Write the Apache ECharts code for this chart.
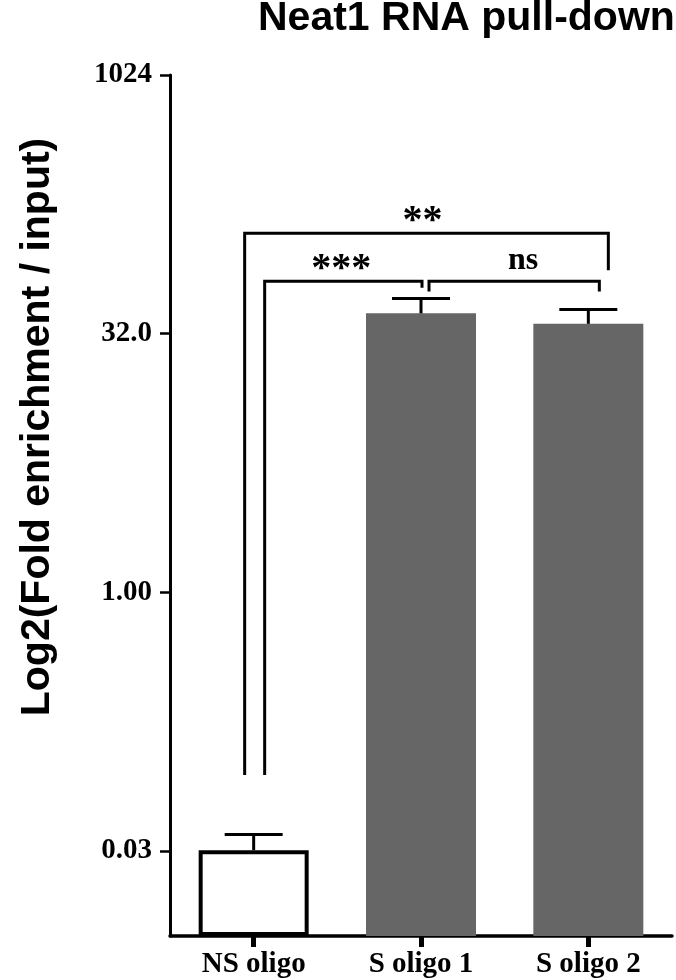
<!DOCTYPE html>
<html>
<head>
<meta charset="utf-8">
<script src="https://cdn.jsdelivr.net/npm/echarts@6/dist/echarts.min.js"></script>
<style>html,body{margin:0;padding:0;background:#fff}#c{width:676px;height:980px}</style>
</head>
<body>
<div id="c"></div>
<script>
const categories = ['NS oligo', 'S oligo 1', 'S oligo 2'];
const means = [0.0316, 42, 36.5];
const upperErr = [0.039, 51.2, 44.3];
const yTicks = [0.03125, 1, 32, 1024];
const yTickLabels = ['0.03', '1.00', '32.0', '1024'];
// significance brackets
const bracketFrom = [0, 0, 1];
const bracketTo = [2, 1, 2];
const bracketLevel = [123, 64.5, 64.5];
const bracketLeftEnd = [0.0866, 0.0866, 56.2];
const bracketRightEnd = [74.8, 59.1, 56.2];
const bracketLabels = ['**', '***', 'ns'];

// rendering offsets (pixels) for brackets
const bOffL = [-9, 11, 8];
const bOffR = [20, 1, 11];
const bTextDx = [-4, -2, 9];
const bTextDy = [-11, -12, -21];
const bTextSize = [40, 40, 32];

const chart = echarts.init(document.getElementById('c'), null, {renderer: 'canvas'});

const serif = '"Liberation Serif", "Times New Roman", serif';
const sans = '"Liberation Sans", Arial, sans-serif';

const barData = means.map((v, i) => ({
  value: v,
  itemStyle: i === 0
    ? {color: '#ffffff', borderColor: '#000', borderWidth: 4}
    : {color: '#666666', borderWidth: 0}
}));

const errData = means.map((v, i) => [i, v, upperErr[i]]);
const bracketData = bracketLabels.map((l, i) => [bracketFrom[i], bracketTo[i], bracketLevel[i], bracketLeftEnd[i], bracketRightEnd[i], i]);

chart.setOption({
  animation: false,
  backgroundColor: '#fff',
  title: {
    text: 'Neat1 RNA pull-down',
    left: 253,
    top: -7,
    textStyle: {fontFamily: sans, fontWeight: 'bold', fontSize: 41, color: '#000'}
  },
  graphic: [{
    type: 'text',
    x: 58,
    y: 427,
    rotation: Math.PI / 2,
    style: {
      text: 'Log2(Fold enrichment / input)',
      fontFamily: sans, fontWeight: 'bold', fontSize: 41, fill: '#000',
      align: 'center', verticalAlign: 'bottom'
    }
  }],
  grid: {left: 170, right: 4, top: 75, bottom: 44, containLabel: false},
  xAxis: {
    type: 'category',
    data: categories,
    axisLine: {show: true, lineStyle: {color: '#000', width: 3.5}},
    axisTick: {show: true, alignWithLabel: true, length: 11, lineStyle: {color: '#000', width: 5}},
    axisLabel: {margin: 14, fontFamily: serif, fontWeight: 'bold', fontSize: 29, color: '#000'},
    splitLine: {show: false}
  },
  yAxis: {
    type: 'log',
    logBase: 2,
    min: 0.01,
    max: 1024,
    startValue: 0.01,
    axisLine: {show: true, lineStyle: {color: '#000', width: 3}},
    axisTick: {show: true, customValues: yTicks, length: 10, lineStyle: {color: '#000', width: 2.5}},
    axisLabel: {
      customValues: yTicks,
      margin: 18,
      fontFamily: serif, fontWeight: 'bold', fontSize: 29, color: '#000',
      formatter: function (v) {
        let best = 0, bd = Infinity;
        yTicks.forEach((t, i) => { const d = Math.abs(Math.log2(t) - Math.log2(v)); if (d < bd) { bd = d; best = i; } });
        return yTickLabels[best];
      }
    },
    splitLine: {show: false},
    minorTick: {show: false}
  },
  series: [
    {
      type: 'bar',
      data: barData,
      barWidth: 110,
      z: 2
    },
    {
      type: 'custom',
      data: errData,
      encode: {x: 0, y: [1, 2]},
      z: 3,
      renderItem: function (params, api) {
        const i = api.value(0);
        const p0 = api.coord([i, api.value(1)]);
        const p1 = api.coord([i, api.value(2)]);
        const half = 29;
        return {
          type: 'group',
          children: [
            {type: 'line', shape: {x1: p0[0], y1: p0[1], x2: p1[0], y2: p1[1]}, style: {stroke: '#000', lineWidth: 3}},
            {type: 'line', shape: {x1: p1[0] - half, y1: p1[1], x2: p1[0] + half, y2: p1[1]}, style: {stroke: '#000', lineWidth: 3}}
          ]
        };
      }
    },
    {
      type: 'custom',
      data: bracketData,
      encode: {x: [0, 1], y: [2, 3, 4]},
      z: 4,
      renderItem: function (params, api) {
        const k = api.value(5);
        const a = api.value(0), b = api.value(1);
        const pl = api.coord([a, api.value(2)]);
        const pr = api.coord([b, api.value(2)]);
        const pla = api.coord([a, api.value(3)]);
        const pra = api.coord([b, api.value(4)]);
        const xl = pl[0] + bOffL[k];
        const xr = pr[0] + bOffR[k];
        const yl = pl[1];
        return {
          type: 'group',
          children: [
            {type: 'polyline', shape: {points: [[xl, pla[1]], [xl, yl], [xr, yl], [xr, pra[1]]]},
             style: {stroke: '#000', lineWidth: 3, fill: null}},
            {type: 'text', x: (xl + xr) / 2 + bTextDx[k], y: yl + bTextDy[k],
             style: {text: bracketLabels[k], fill: '#000', fontFamily: serif, fontWeight: 'bold', fontSize: bTextSize[k], align: 'center', verticalAlign: 'middle'}}
          ]
        };
      }
    }
  ]
});
</script>
</body>
</html>
